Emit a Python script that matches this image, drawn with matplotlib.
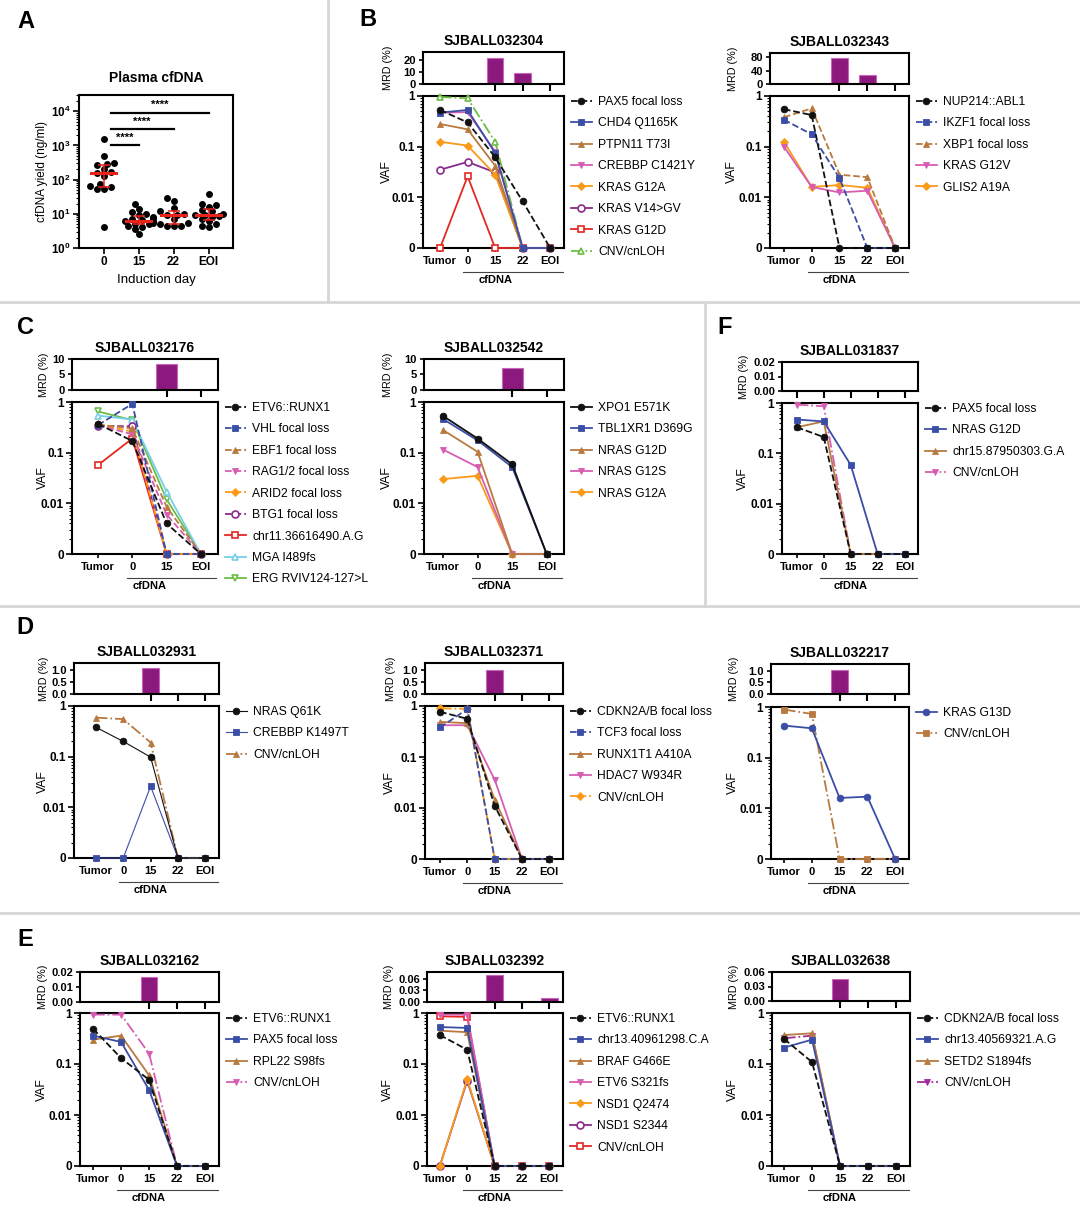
import numpy as np
import matplotlib
matplotlib.use("Agg")
import matplotlib.pyplot as plt
import matplotlib.transforms as mtransforms
from matplotlib.lines import Line2D
from matplotlib.ticker import LogLocator, NullFormatter

plt.rcParams["font.family"] = ["Liberation Sans", "DejaVu Sans"]
plt.rcParams["font.weight"] = "bold"
plt.rcParams["mathtext.fontset"] = "custom"
plt.rcParams["mathtext.rm"] = "Liberation Sans:bold"
plt.rcParams["mathtext.bf"] = "Liberation Sans:bold"
plt.rcParams["axes.linewidth"] = 1.5

W, H, DPI = 1080, 1208, 100
FLOOR = 1e-3  # where "0" sits on the log VAF axis
NAN = np.nan

# ---------------- A: plasma cfDNA yield (ng/ml)
cf_days = ["0", "15", "22", "EOI"]
cf_d0 = [1500, 480, 310, 290, 260, 200, 170, 160, 130, 75, 65, 60, 55, 52, 4]
cf_d15 = [20, 14, 11, 10, 9, 8, 7.5, 7, 6.5, 6, 6, 5.5, 5.2, 5, 4.5, 4.2, 3.5, 2.5]
cf_d22 = [30, 24, 15, 12, 10, 9.5, 9.2, 7, 5.5, 5, 4.5, 4.5, 4.5]
cf_eoi = [38, 20, 18, 16, 13, 12, 10, 9.5, 9, 8.5, 8, 7, 6, 5, 4.5, 4]
cf_sig = ["****", "****", "****"]

TP5 = ["Tumor", "0", "15", "22", "EOI"]
TP4 = ["Tumor", "0", "15", "EOI"]

# ---------------- B: SJBALL032304
p304_var = ["PAX5 focal loss", "CHD4 Q1165K", "PTPN11 T73I", "CREBBP C1421Y",
            "KRAS G12A", "KRAS V14>GV", "KRAS G12D", "CNV/cnLOH"]
p304_vaf = [[0.53, 0.30, 0.062, 0.0083, 0],
            [0.47, 0.53, 0.075, 0, 0],
            [0.28, 0.22, 0.042, 0, 0],
            [0.47, 0.48, 0.08, 0, 0],
            [0.125, 0.105, 0.028, 0, 0],
            [0.035, 0.05, 0.031, 0, 0],
            [0, 0.026, 0, 0, 0],
            [0.96, 0.90, 0.125, 0, 0]]
p304_mrd = [NAN, NAN, 21.4, 9.0, NAN]

# ---------------- B: SJBALL032343
p343_var = ["NUP214::ABL1", "IKZF1 focal loss", "XBP1 focal loss", "KRAS G12V", "GLIS2 A19A"]
p343_vaf = [[0.55, 0.42, 0, 0, 0],
            [0.34, 0.175, 0.024, 0, 0],
            [0.38, 0.57, 0.028, 0.025, 0],
            [0.10, 0.016, 0.0125, 0.0135, 0],
            [0.125, 0.016, 0.0175, 0.0155, 0]]
p343_mrd = [0, 0, 78, 28, 0]

# ---------------- C: SJBALL032176
p176_var = ["ETV6::RUNX1", "VHL focal loss", "EBF1 focal loss", "RAG1/2 focal loss",
            "ARID2 focal loss", "BTG1 focal loss", "chr11.36616490.A.G", "MGA I489fs",
            "ERG RVIV124-127>L"]
p176_vaf = [[0.37, 0.17, 0.004, 0],
            [0.35, 0.92, 0, 0],
            [0.36, 0.30, 0.0085, 0],
            [0.35, 0.23, 0.006, 0],
            [0.36, 0.26, 0, 0],
            [0.34, 0.33, 0, 0],
            [0.057, 0.19, 0, 0],
            [0.54, 0.45, 0.017, 0],
            [0.65, 0.44, 0.012, 0]]
p176_mrd = [NAN, NAN, 8.4, NAN]

# ---------------- C: SJBALL032542
p542_var = ["XPO1 E571K", "TBL1XR1 D369G", "NRAS G12D", "NRAS G12S", "NRAS G12A"]
p542_vaf = [[0.53, 0.19, 0.059, 0],
            [0.46, 0.175, 0.052, 0],
            [0.28, 0.104, 0, 0],
            [0.115, 0.052, 0, 0],
            [0.030, 0.035, 0, 0]]
p542_mrd = [NAN, NAN, 7.1, NAN]

# ---------------- F: SJBALL031837
p837_var = ["PAX5 focal loss", "NRAS G12D", "chr15.87950303.G.A", "CNV/cnLOH"]
p837_vaf = [[0.33, 0.21, 0, 0, 0],
            [0.47, 0.43, 0.059, 0, 0],
            [0.33, 0.43, 0, 0, 0],
            [0.93, 0.86, 0, 0, 0]]
p837_mrd = [NAN, NAN, NAN, NAN, NAN]

# ---------------- D: SJBALL032931
p931_var = ["NRAS Q61K", "CREBBP K1497T", "CNV/cnLOH"]
p931_vaf = [[0.38, 0.20, 0.098, 0, 0],
            [0, 0, 0.026, 0, 0],
            [0.59, 0.55, 0.19, 0, 0]]
p931_mrd = [NAN, NAN, 1.07, NAN, NAN]

# ---------------- D: SJBALL032371
p371_var = ["CDKN2A/B focal loss", "TCF3 focal loss", "RUNX1T1 A410A", "HDAC7 W934R", "CNV/cnLOH"]
p371_vaf = [[0.77, 0.56, 0.011, 0, 0],
            [0.38, 0.87, 0, 0, 0],
            [0.49, 0.46, 0.0145, 0, 0],
            [0.42, 0.42, 0.036, 0, 0],
            [0.90, 0.88, 0, 0, 0]]
p371_mrd = [NAN, NAN, 1.0, NAN, NAN]

# ---------------- D: SJBALL032217
p217_var = ["KRAS G13D", "CNV/cnLOH"]
p217_vaf = [[0.43, 0.38, 0.016, 0.017, 0],
            [0.89, 0.73, 0, 0, 0]]
p217_mrd = [NAN, NAN, 1.02, 0.05, NAN]

# ---------------- E: SJBALL032162
p162_var = ["ETV6::RUNX1", "PAX5 focal loss", "RPL22 S98fs", "CNV/cnLOH"]
p162_vaf = [[0.49, 0.13, 0.049, 0, 0],
            [0.36, 0.27, 0.031, 0, 0],
            [0.30, 0.36, 0.06, 0, 0],
            [0.93, 0.93, 0.16, 0, 0]]
p162_mrd = [NAN, NAN, 0.017, NAN, NAN]

# ---------------- E: SJBALL032392
p392_var = ["ETV6::RUNX1", "chr13.40961298.C.A", "BRAF G466E", "ETV6 S321fs",
            "NSD1 Q2474", "NSD1 S2344", "CNV/cnLOH"]
p392_vaf = [[0.37, 0.19, 0, 0, 0],
            [0.53, 0.51, 0, 0, 0],
            [0.45, 0.42, 0, 0, 0],
            [0.93, 0.93, 0, 0, 0],
            [0, 0.05, 0, 0, 0],
            [0, 0.047, 0, 0, 0],
            [0.86, 0.84, 0, 0, 0]]
p392_mrd = [NAN, NAN, 0.069, NAN, 0.011]

# ---------------- E: SJBALL032638
p638_var = ["CDKN2A/B focal loss", "chr13.40569321.A.G", "SETD2 S1894fs", "CNV/cnLOH"]
p638_vaf = [[0.31, 0.109, 0, 0, 0],
            [0.21, 0.30, 0, 0, 0],
            [0.37, 0.40, 0, 0, 0],
            [0.32, 0.36, 0, 0, 0]]
p638_mrd = [NAN, NAN, 0.046, NAN, NAN]

# ---------------- styles
COL = dict(k="#111111", b="#3b4ea6", n="#b87a40", p="#d75db3", o="#f99a18",
           v="#8b2a8c", r="#e52822", c="#78cfe8", g="#6cbd45", m="#a02a9a")
MRD_FACE, MRD_EDGE = "#8c1a7e", "#c867b9"
RED = "#e8231c"

fig = plt.figure(figsize=(W / DPI, H / DPI), dpi=DPI)


def px_axes(l, r, t, b):
    return fig.add_axes([l / W, 1 - b / H, (r - l) / W, (b - t) / H])


def draw_patient(name, tps, variants, vaf, styles, mrd, mrd_xt, mrd_top, mrd_yt, mrd_ytl, box):
    l, r, mt, mb, vt, vb, xl, ylab = box
    n = len(tps)
    x = np.arange(n)
    xlim = (xl, n - 0.5)
    lab_x = -ylab / (r - l)

    # MRD bars
    mx = px_axes(l, r, mt, mb)
    mx.bar(x, mrd, width=0.6, color=MRD_FACE, edgecolor=MRD_EDGE, lw=0.8)
    mx.set_xlim(xlim)
    mx.set_ylim(0, mrd_top)
    mx.set_xticks(mrd_xt)
    mx.set_xticklabels([])
    mx.set_yticks(mrd_yt)
    mx.set_yticklabels(mrd_ytl)
    mx.tick_params(axis="x", length=5, width=1.5, direction="out")
    mx.tick_params(axis="y", length=3, width=1.2, labelsize=8, pad=2)
    mx.set_ylabel("MRD (%)", fontsize=7.8)
    mx.yaxis.set_label_coords(lab_x, 0.5)
    mx.set_title(name, fontsize=10, fontweight="bold", pad=5)

    # VAF lines (first listed series drawn on top)
    ax = px_axes(l, r, vt, vb)
    k = len(vaf)
    for i, (vals, st, lab) in enumerate(zip(vaf, styles, variants)):
        c, ls, mk, hollow = st[:4]
        lw = st[4] if len(st) > 4 else 1.3
        v = np.array(vals, float)
        y = np.where(v > 0, v, FLOOR)
        ms = 3.6 if mk == "D" else (5 if hollow else 4.8)
        ax.plot(x, y, color=COL[c], ls=ls, lw=lw, marker=mk, ms=ms,
                mfc="white" if hollow else COL[c], mec=COL[c],
                mew=1.2 if hollow else 0.6, label=lab, clip_on=False, zorder=3 + k - i)
    ax.set_yscale("log")
    ax.set_ylim(FLOOR, 1)
    ax.set_xlim(xlim)
    ax.set_yticks([FLOOR, 0.01, 0.1, 1])
    ax.set_yticklabels(["0", "0.01", "0.1", "1"])
    ax.yaxis.set_minor_locator(LogLocator(base=10, subs=np.arange(2, 10)))
    ax.yaxis.set_minor_formatter(NullFormatter())
    ax.set_xticks(x)
    ax.set_xticklabels(tps)
    ax.tick_params(axis="x", length=3, width=1.2, labelsize=8, pad=3)
    ax.tick_params(axis="y", which="major", length=4, width=1.2, labelsize=8.5, pad=2)
    ax.tick_params(axis="y", which="minor", length=2.5, width=0.8)
    ax.set_ylabel("VAF", fontsize=8.8)
    ax.yaxis.set_label_coords(lab_x, 0.5)

    # cfDNA bracket under the timepoints
    tr = mtransforms.blended_transform_factory(ax.transData, ax.transAxes)
    ax.plot([0.85, n - 0.55], [-0.157, -0.157], transform=tr, clip_on=False,
            color="#444444", lw=0.8)
    ax.text(n / 2 - 0.5, -0.178, "cfDNA", transform=tr, ha="center", va="top", fontsize=8)

    ax.legend(loc="upper left", bbox_to_anchor=(1 + 7 / (r - l), 1.0), frameon=False,
              prop={"size": 8.7, "weight": "normal"}, handlelength=1.7, handletextpad=0.55,
              labelspacing=0.78, borderaxespad=0, borderpad=0)


# ---------------- panel A
axA = px_axes(79, 233, 95, 248)
for i, g in enumerate([cf_d0, cf_d15, cf_d22, cf_eoi]):
    vals = np.sort(np.array(g, float))
    # simple beeswarm placement, in pixel units (35 px per group, 34 px per decade)
    placed = []
    offs = []
    for v in vals:
        for dx in [0, -0.1, 0.1, -0.2, 0.2, -0.3, 0.3, -0.4, 0.4]:
            ok = all(((dx - px) * 35) ** 2 + ((np.log10(v) - pv) * 34) ** 2 > 5.5 ** 2
                     for px, pv in placed)
            if ok:
                break
        placed.append((dx, np.log10(v)))
        offs.append(dx)
    axA.plot(i + np.array(offs), vals, "o", color="black", ms=5, mew=0, clip_on=False, zorder=3)
    med = np.median(vals)
    q1, q3 = np.percentile(vals, [25, 75])
    axA.plot([i - 0.36, i + 0.36], [med, med], color=RED, lw=2.2, zorder=4)
    axA.errorbar(i, med, yerr=[[med - q1], [q3 - med]], color=RED, capsize=4.5,
                 lw=1.1, capthick=1.1, zorder=4)

sig_y = [1000, 3000, 9000]
for j, (s, yy) in enumerate(zip(cf_sig, sig_y)):
    axA.plot([0.2, j + 1], [yy, yy], color="black", lw=1.6)
    axA.text((0.2 + j + 1) / 2, yy * 1.2, s, ha="center", va="bottom", fontsize=8)

axA.set_yscale("log")
axA.set_ylim(1, 3e4)
axA.set_xlim(-0.7, 3.7)
axA.set_yticks([1, 10, 100, 1000, 10000])
axA.set_yticklabels([r"$\mathbf{10^{%d}}$" % k for k in range(5)])
axA.yaxis.set_minor_locator(LogLocator(base=10, subs=np.arange(2, 10)))
axA.yaxis.set_minor_formatter(NullFormatter())
axA.set_xticks(range(4))
axA.set_xticklabels(cf_days)
axA.tick_params(axis="both", which="major", length=4, width=1.2, labelsize=8.5, pad=2)
axA.tick_params(axis="y", which="minor", length=2.5, width=0.8)
axA.set_ylabel("cfDNA yield (ng/ml)", fontsize=8.5)
axA.yaxis.set_label_coords(-31 / 154, 0.5)
axA.set_xlabel("Induction day", fontsize=9.5, labelpad=4)
axA.set_title("Plasma cfDNA", fontsize=10, fontweight="bold", pad=9)

# ---------------- patient panels
draw_patient("SJBALL032304", TP5, p304_var, p304_vaf,
             [("k", "--", "o", 0), ("b", "-", "s", 0), ("n", "-", "^", 0), ("p", "-", "v", 0),
              ("o", "-", "D", 0), ("v", "-", "o", 1), ("r", "-", "s", 1), ("g", "-.", "^", 1)],
             p304_mrd, [2, 3, 4], 26.3, [0, 10, 20], ["0", "10", "20"],
             (423, 564, 52, 84, 96, 248, -0.62, 30))
draw_patient("SJBALL032343", TP5, p343_var, p343_vaf,
             [("k", "--", "o", 0), ("b", "--", "s", 0), ("n", "--", "^", 0), ("p", "-", "v", 0),
              ("o", "-", "D", 0)],
             p343_mrd, [2, 3, 4], 92, [0, 40, 80], ["0", "40", "80"],
             (770, 909, 53, 84, 96, 248, -0.5, 32))
draw_patient("SJBALL032176", TP4, p176_var, p176_vaf,
             [("k", "--", "o", 0), ("b", "--", "s", 0), ("n", "--", "^", 0), ("p", "--", "v", 0),
              ("o", "--", "D", 0), ("v", "--", "o", 1), ("r", "-", "s", 1), ("c", "-", "^", 1),
              ("g", "-", "v", 1)],
             p176_mrd, [2, 3], 10, [0, 5, 10], ["0", "5", "10"],
             (72, 218, 359, 390, 402, 554, -0.76, 23))
draw_patient("SJBALL032542", TP4, p542_var, p542_vaf,
             [("k", "-", "o", 0), ("b", "-", "s", 0), ("n", "-", "^", 0), ("p", "-", "v", 0),
              ("o", "-", "D", 0)],
             p542_mrd, [2, 3], 10, [0, 5, 10], ["0", "5", "10"],
             (424, 564, 359, 390, 402, 554, -0.55, 31))
draw_patient("SJBALL031837", TP5, p837_var, p837_vaf,
             [("k", "--", "o", 0), ("b", "-", "s", 0), ("n", "-", "^", 0), ("p", "-.", "v", 0)],
             p837_mrd, [0, 1, 2, 3, 4], 0.02, [0, 0.01, 0.02], ["0.00", "0.01", "0.02"],
             (782, 918, 362, 391, 403, 554, -0.55, 33))
draw_patient("SJBALL032931", TP5, p931_var, p931_vaf,
             [("k", "-", "o", 0, 0.8), ("b", "-", "s", 0, 0.8), ("n", "-.", "^", 0)],
             p931_mrd, [2, 3, 4], 1.3, [0, 0.5, 1.0], ["0.0", "0.5", "1.0"],
             (74, 219, 663, 694, 706, 858, -0.8, 25))
draw_patient("SJBALL032371", TP5, p371_var, p371_vaf,
             [("k", "--", "o", 0), ("b", "--", "s", 0), ("n", "-", "^", 0), ("p", "-", "v", 0),
              ("o", "-.", "D", 0)],
             p371_mrd, [2, 3, 4], 1.3, [0, 0.5, 1.0], ["0.0", "0.5", "1.0"],
             (425, 563, 663, 694, 706, 859, -0.55, 29))
draw_patient("SJBALL032217", TP5, p217_var, p217_vaf,
             [("b", "-", "o", 0), ("n", "-.", "s", 0)],
             p217_mrd, [2, 3, 4], 1.3, [0, 0.5, 1.0], ["0.0", "0.5", "1.0"],
             (771, 909, 664, 694, 707, 859, -0.47, 32))
draw_patient("SJBALL032162", TP5, p162_var, p162_vaf,
             [("k", "--", "o", 0), ("b", "-", "s", 0), ("n", "-", "^", 0), ("p", "-.", "v", 0)],
             p162_mrd, [2, 3, 4], 0.02, [0, 0.01, 0.02], ["0.00", "0.01", "0.02"],
             (80, 219, 972, 1002, 1013, 1166, -0.47, 32))
draw_patient("SJBALL032392", TP5, p392_var, p392_vaf,
             [("k", "--", "o", 0), ("b", "-", "s", 0), ("n", "-", "^", 0), ("p", "-", "v", 0),
              ("o", "-", "D", 0), ("v", "-", "o", 1), ("r", "-", "s", 1)],
             p392_mrd, [2, 3, 4], 0.078, [0, 0.03, 0.06], ["0.00", "0.03", "0.06"],
             (427, 563, 972, 1002, 1013, 1166, -0.47, 33))
draw_patient("SJBALL032638", TP5, p638_var, p638_vaf,
             [("k", "--", "o", 0), ("b", "-", "s", 0), ("n", "-", "^", 0), ("m", "-.", "v", 0)],
             p638_mrd, [2, 3, 4], 0.06, [0, 0.03, 0.06], ["0.00", "0.03", "0.06"],
             (772, 910, 972, 1001, 1013, 1166, -0.43, 33))

# ---------------- separators and panel letters
for x0, y0, x1, y1 in [(328, 0, 328, 302), (0, 302, W, 302), (705, 302, 705, 606),
                       (0, 606, W, 606), (0, 913, W, 913)]:
    fig.add_artist(Line2D([x0 / W, x1 / W], [1 - y0 / H, 1 - y1 / H], color="#d6d6d6", lw=2))

for s, px, py in [("A", 26, 22), ("B", 368, 20), ("C", 26, 327), ("F", 725, 327),
                  ("D", 25, 628), ("E", 25, 940)]:
    fig.text(px / W, 1 - py / H, s, fontsize=17, fontweight="bold", ha="center", va="center")

fig.savefig("out.png", dpi=DPI)
